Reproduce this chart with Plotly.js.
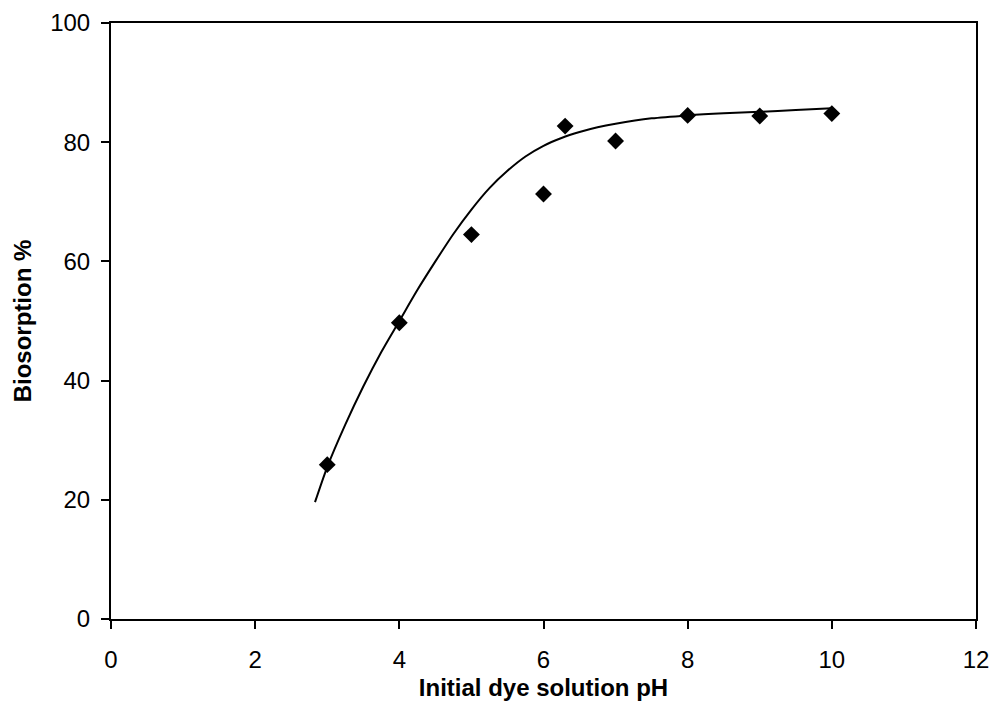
<!DOCTYPE html>
<html>
<head>
<meta charset="utf-8">
<script src="https://cdn.plot.ly/plotly-3.0.1.min.js"></script>
<style>html,body{margin:0;padding:0;background:#fff;}#chart{width:992px;height:724px;}</style>
</head>
<body>
<div id="chart"></div>
<script>
// Measured data points
const phValues = [3, 4, 5, 6, 6.3, 7, 8, 9, 10];
const biosorption = [25.9, 49.7, 64.5, 71.3, 82.7, 80.2, 84.5, 84.4, 84.8];

// Fitted curve
const curveX = [2.83, 3.0, 3.25, 3.5, 3.75, 4.0, 4.25, 4.5, 4.75, 5.0, 5.25, 5.5, 5.75, 6.0, 6.25, 6.5, 6.75, 7.0, 7.5, 8.0, 8.5, 9.0, 9.5, 10.0];
const curveY = [19.6, 25.5, 32.6, 39.0, 44.8, 50.0, 55.2, 60.0, 64.6, 68.7, 72.3, 75.2, 77.6, 79.4, 80.7, 81.7, 82.5, 83.1, 84.0, 84.5, 84.85, 85.1, 85.4, 85.7];

const xTicks = [0, 2, 4, 6, 8, 10, 12];
const yTicks = [0, 20, 40, 60, 80, 100];

const traces = [
  {x: curveX, y: curveY, mode: 'lines', line: {color: '#000', width: 2, shape: 'spline', smoothing: 0.8}, hoverinfo: 'skip', showlegend: false},
  {x: phValues, y: biosorption, mode: 'markers', marker: {symbol: 'diamond', size: 13, color: '#000'}, showlegend: false}
];

const fontFam = '"Liberation Sans", Arial, sans-serif';
const layout = {
  width: 992, height: 724,
  margin: {l: 111, r: 16, t: 23, b: 105},
  paper_bgcolor: '#fff', plot_bgcolor: '#fff',
  font: {family: fontFam, size: 24, color: '#000'},
  xaxis: {
    range: [0, 12], tickvals: xTicks, ticktext: xTicks.map(String),
    showgrid: false, zeroline: false, showline: true, mirror: true,
    linecolor: '#000', linewidth: 2, ticks: 'outside', ticklen: 8, tickwidth: 2, tickcolor: '#000',
    ticklabelstandoff: 10,
    tickfont: {size: 24, family: fontFam}, automargin: false,
    title: {text: '<b>Initial dye solution pH</b>', font: {size: 24, family: fontFam}, standoff: 7}
  },
  yaxis: {
    range: [0, 100], tickvals: yTicks, ticktext: yTicks.map(String),
    showgrid: false, zeroline: false, showline: true, mirror: true,
    linecolor: '#000', linewidth: 2, ticks: 'outside', ticklen: 8, tickwidth: 2, tickcolor: '#000',
    ticklabelstandoff: 6,
    tickfont: {size: 24, family: fontFam}, automargin: false,
    title: {text: '<b>Biosorption %</b>', font: {size: 24, family: fontFam}, standoff: 12}
  }
};

Plotly.newPlot('chart', traces, layout, {displayModeBar: false, staticPlot: true});
</script>
</body>
</html>
